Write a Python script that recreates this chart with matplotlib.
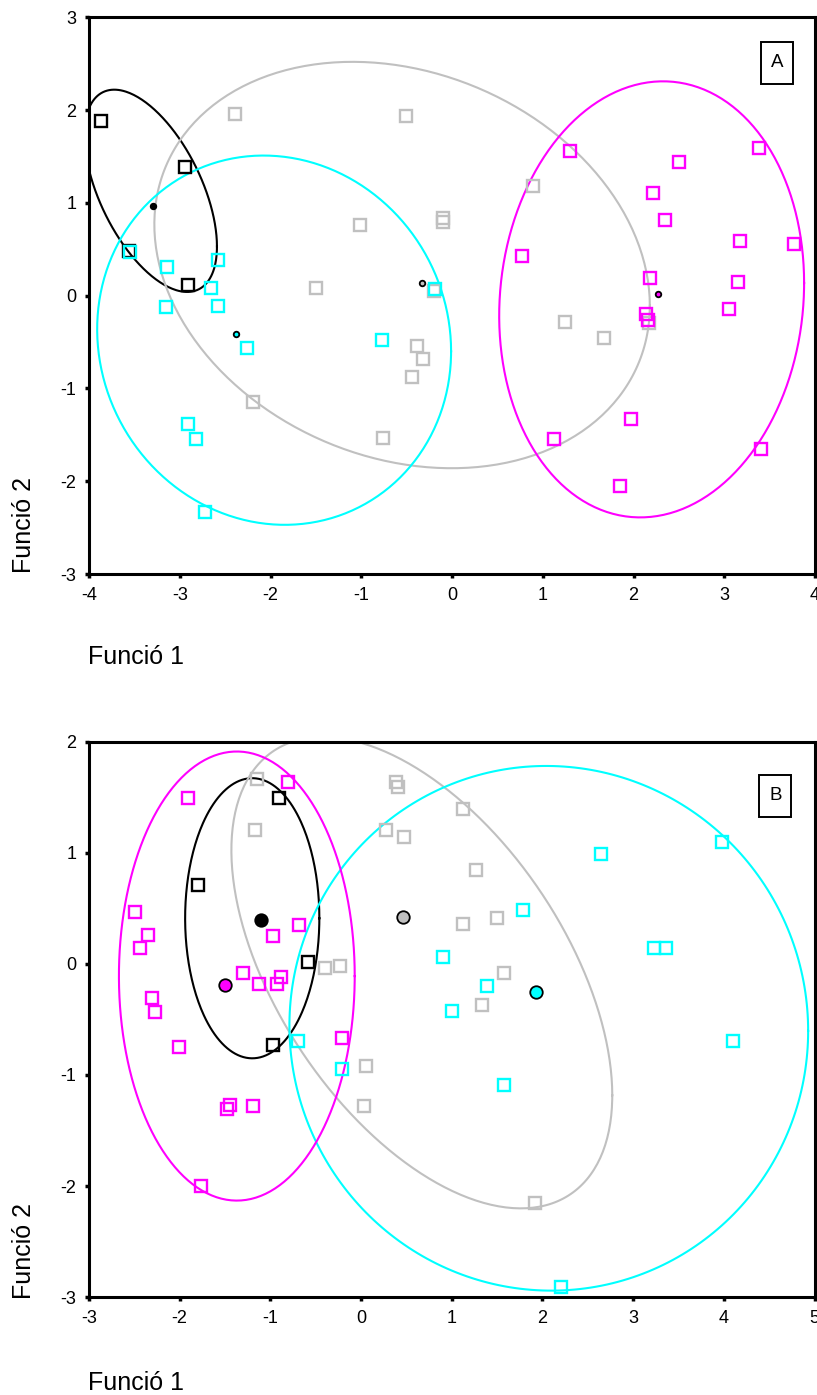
import numpy as np
import matplotlib
matplotlib.use("Agg")
from matplotlib import pyplot as plt
from matplotlib.patches import Rectangle

plt.rcParams['font.family'] = ['Liberation Sans', 'DejaVu Sans']
plt.rcParams['axes.unicode_minus'] = False

# Panel A - discriminant scores per group (Funció 1, Funció 2)
a_black_x = [-3.87, -2.94, -3.56, -2.91]
a_black_y = [1.88, 1.39, 0.48, 0.11]
a_gray_x = [-2.39, -0.51, -1.01, -0.10, -0.10, -1.50, -0.20, -0.39, -0.32, -0.44,
            -2.19, -0.76, 0.89, 1.25, 1.67, 2.17]
a_gray_y = [1.96, 1.94, 0.76, 0.84, 0.79, 0.08, 0.05, -0.54, -0.68, -0.88,
            -1.15, -1.53, 1.18, -0.28, -0.46, -0.29]
a_cyan_x = [-3.55, -3.14, -2.58, -2.66, -3.15, -2.58, -2.26, -0.77, -2.91, -2.82,
            -2.72, -0.19]
a_cyan_y = [0.47, 0.31, 0.38, 0.08, -0.12, -0.11, -0.56, -0.48, -1.38, -1.55,
            -2.33, 0.07]
a_magenta_x = [1.30, 2.50, 2.21, 2.35, 3.38, 3.17, 3.77, 0.77, 2.18, 3.15,
               2.14, 2.16, 3.05, 1.97, 1.12, 3.40, 1.85]
a_magenta_y = [1.56, 1.44, 1.11, 0.81, 1.59, 0.59, 0.56, 0.43, 0.19, 0.15,
               -0.20, -0.26, -0.14, -1.33, -1.55, -1.65, -2.05]

# group centroids, order: black, gray, cyan, magenta
a_cent_x = [-3.29, -0.33, -2.38, 2.27]
a_cent_y = [0.97, 0.14, -0.41, 0.02]

# territory ellipses: centre, half width, half height, correlation
a_ell_cx = [-3.32, -0.55, -1.96, 2.20]
a_ell_cy = [1.13, 0.33, -0.48, -0.04]
a_ell_w = [0.73, 2.73, 1.95, 1.68]
a_ell_h = [1.09, 2.19, 1.99, 2.35]
a_ell_r = [-0.55, -0.20, -0.06, 0.075]

# Panel B
b_black_x = [-0.90, -1.80, -0.59, -0.97]
b_black_y = [1.49, 0.71, 0.02, -0.73]
b_gray_x = [-1.15, -1.17, -0.40, -0.23, 0.39, 0.41, 1.12, 0.28, 0.47, 1.27,
            1.50, 1.12, 1.58, 1.33, 0.05, 0.03, 1.92]
b_gray_y = [1.66, 1.20, -0.04, -0.02, 1.64, 1.59, 1.39, 1.20, 1.14, 0.84,
            0.41, 0.36, -0.08, -0.37, -0.92, -1.28, -2.15]
b_cyan_x = [2.65, 3.98, 1.79, 0.90, 3.23, 3.36, 1.39, 1.00, 4.10, 1.58,
            2.20, -0.69, -0.21]
b_cyan_y = [0.99, 1.10, 0.48, 0.06, 0.14, 0.14, -0.20, -0.42, -0.69, -1.09,
            -2.91, -0.69, -0.95]
b_magenta_x = [-0.81, -1.91, -2.49, -2.35, -2.44, -0.68, -0.97, -1.30, -1.13, -0.93,
               -0.88, -2.30, -2.27, -2.01, -0.21, -1.44, -1.48, -1.19, -1.77]
b_magenta_y = [1.64, 1.49, 0.47, 0.26, 0.14, 0.35, 0.25, -0.08, -0.18, -0.18,
               -0.12, -0.31, -0.43, -0.75, -0.67, -1.27, -1.31, -1.28, -2.00]

b_cent_x = [-1.10, 0.46, 1.93, -1.50]
b_cent_y = [0.39, 0.42, -0.25, -0.19]

b_ell_cx = [-1.20, 0.67, 2.07, -1.37]
b_ell_cy = [0.41, -0.08, -0.58, -0.11]
b_ell_w = [0.74, 2.10, 2.86, 1.30]
b_ell_h = [1.26, 2.12, 2.36, 2.02]
b_ell_r = [0.0, -0.52, -0.01, 0.0]

colors = ['black', '#C0C0C0', '#00FFFF', '#FF00FF']


def draw_ellipse(ax, cx, cy, w, h, r, color):
    t = np.linspace(0, 2 * np.pi, 300)
    x = cx + w * np.cos(t)
    y = cy + r * h * np.cos(t) + h * np.sqrt(1 - r ** 2) * np.sin(t)
    ax.plot(x, y, color=color, lw=1.5, zorder=2)


def panel(ax, groups, cent_x, cent_y, ell, xlim, ylim, letter, box_xy, cent_size):
    for i, (gx, gy) in enumerate(groups):
        ax.plot(gx, gy, 's', ms=8.3, mfc='none', mec=colors[i], mew=1.7, zorder=3)
    for i in range(len(colors)):
        draw_ellipse(ax, ell[0][i], ell[1][i], ell[2][i], ell[3][i], ell[4][i], colors[i])
    for i in range(len(colors)):
        ax.plot(cent_x[i], cent_y[i], 'o', ms=cent_size, mfc=colors[i], mec='black',
                mew=1.3, zorder=4)
    ax.set_xlim(*xlim)
    ax.set_ylim(*ylim)
    ax.set_xticks(range(xlim[0], xlim[1] + 1))
    ax.set_yticks(range(ylim[0], ylim[1] + 1))
    for s in ax.spines.values():
        s.set_linewidth(2.2)
    ax.tick_params(length=3, width=2.5, labelsize=13, pad=6)
    # letter in a small framed box, upper right corner
    bw = 32 / ax.bbox.width
    bh = 42 / ax.bbox.height
    ax.add_patch(Rectangle((box_xy[0] - bw / 2, box_xy[1] - bh / 2), bw, bh,
                           transform=ax.transAxes, fc='white', ec='black', lw=1.4, zorder=5))
    ax.text(box_xy[0], box_xy[1], letter, transform=ax.transAxes, ha='center',
            va='center', fontsize=13.5, zorder=6)


fig = plt.figure(figsize=(8.17, 13.95), dpi=100)
W, H = 817, 1395

axA = fig.add_axes([89 / W, 1 - 574 / H, 726 / W, 556.7 / H])
panel(axA,
      [(a_black_x, a_black_y), (a_gray_x, a_gray_y), (a_cyan_x, a_cyan_y), (a_magenta_x, a_magenta_y)],
      a_cent_x, a_cent_y, (a_ell_cx, a_ell_cy, a_ell_w, a_ell_h, a_ell_r),
      (-4, 4), (-3, 3), 'A', (0.948, 0.918), 4)

axB = fig.add_axes([89 / W, 1 - 1297.3 / H, 725.5 / W, 555.8 / H])
panel(axB,
      [(b_black_x, b_black_y), (b_gray_x, b_gray_y), (b_cyan_x, b_cyan_y), (b_magenta_x, b_magenta_y)],
      b_cent_x, b_cent_y, (b_ell_cx, b_ell_cy, b_ell_w, b_ell_h, b_ell_r),
      (-3, 5), (-3, 2), 'B', (0.946, 0.902), 9)

# axis titles sit outside the frames, bottom-left
for ybase, xlab_y in [(573, 657), (1299, 1383)]:
    fig.text(24 / W, 1 - ybase / H, 'Funció 2', rotation=90, ha='center', va='bottom', fontsize=18)
    fig.text(88 / W, 1 - xlab_y / H, 'Funció 1', ha='left', va='center', fontsize=18)

fig.savefig('out.png', dpi=100)
